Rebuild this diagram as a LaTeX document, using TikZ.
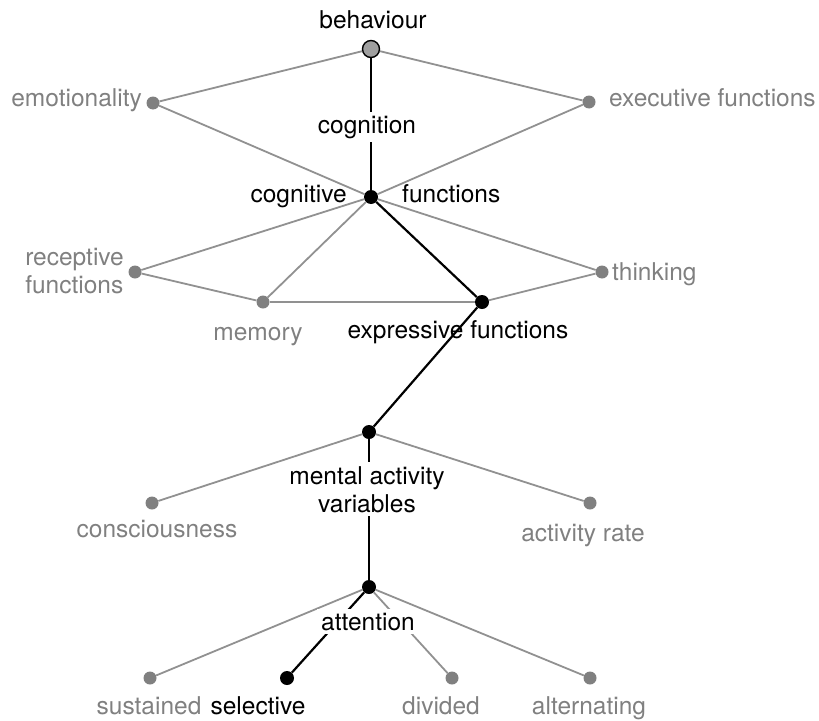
\documentclass[tikz,border=0pt]{standalone}
\usepackage{fontspec}
\setmainfont{TeX Gyre Heros}
\usetikzlibrary{positioning}
\definecolor{midgray}{gray}{0.5}
\definecolor{linegray}{gray}{0.57}
\tikzset{
  gdot/.style={circle,fill=midgray,inner sep=0pt,minimum size=13pt},
  bdot/.style={circle,fill=black,inner sep=0pt,minimum size=14pt},
  topdot/.style={circle,fill=gray!75,draw=black,line width=1.4pt,inner sep=0pt,minimum size=17pt},
  glink/.style={draw=linegray,line width=1.8pt},
  blink/.style={draw=black,line width=2.2pt},
  gtext/.style={text=midgray,inner sep=0pt},
  btext/.style={text=black,inner sep=0pt},
  cover/.style={fill=white,inner sep=4pt},
}

\begin{document}
\begin{tikzpicture}[x=1pt,y=-1pt,font=\fontsize{24.5}{28}\selectfont]
\useasboundingbox (0,0) rectangle (819,720);
% dots
\node[topdot] (behav) at (371,49) {};
\node[gdot] (emot) at (153,103) {};
\node[gdot] (exec) at (589,102) {};
\node[bdot] (cogfun) at (371,197) {};
\node[gdot] (recep) at (135,272) {};
\node[gdot] (memo) at (263,302) {};
\node[gdot] (think) at (602,272) {};
\node[bdot] (expr) at (482,302) {};
\node[bdot] (mental) at (369,432) {};
\node[gdot] (consc) at (152,503) {};
\node[gdot] (rate) at (590,503) {};
\node[bdot] (attn) at (369,587) {};
\node[gdot] (sust) at (150,678) {};
\node[bdot] (selec) at (287,678) {};
\node[gdot] (divi) at (452,678) {};
\node[gdot] (alter) at (590,678) {};

% links
\draw[glink] (behav) -- (emot);
\draw[glink] (behav) -- (exec);
\draw[glink] (emot) -- (cogfun);
\draw[glink] (exec) -- (cogfun);
\draw[blink] (behav) -- (cogfun);
\draw[glink] (cogfun) -- (recep);
\draw[glink] (cogfun) -- (memo);
\draw[glink] (cogfun) -- (think);
\draw[glink] (recep) -- (memo);
\draw[glink] (memo) -- (expr);
\draw[glink] (think) -- (expr);
\draw[blink] (cogfun) -- (expr);
\draw[blink] (expr) -- (mental);
\draw[glink] (mental) -- (consc);
\draw[glink] (mental) -- (rate);
\draw[blink] (mental) -- (attn);
\draw[glink] (attn) -- (sust);
\draw[glink] (attn) -- (divi);
\draw[glink] (attn) -- (alter);
\draw[blink] (attn) -- (selec);

% labels
\node[btext,anchor=base] (behavlbl) at (373,28) {behaviour};
\node[gtext,anchor=base east] (emotlbl) at (142,106) {emotionality};
\node[gtext,anchor=base west] (execlbl) at (609,106) {executive functions};
\node[btext,cover,anchor=base] (cognlbl) at (367,133) {cognition};
\node[btext,anchor=base east] (coglbl) at (347,202) {cognitive};
\node[btext,anchor=base west] (funlbl) at (402,202) {functions};
\node[gtext,anchor=east,align=left] (receplbl) at (124,271) {receptive\\functions};
\node[gtext,anchor=base] (memolbl) at (258,340) {memory};
\node[gtext,anchor=base west] (thinklbl) at (612,280) {thinking};
\node[btext,anchor=base] (exprlbl) at (458,338) {expressive functions};
\node[btext,cover,align=center,anchor=north] (mentallbl) at (367,462) {mental activity\\variables};
\node[gtext,anchor=base] (consclbl) at (157,537) {consciousness};
\node[gtext,anchor=base] (ratelbl) at (583,541) {activity rate};
\node[btext,cover,anchor=base] (attnlbl) at (368,630) {attention};
\node[gtext,anchor=base] (sustlbl) at (149,714) {sustained};
\node[btext,anchor=base] (seleclbl) at (258,714) {selective};
\node[gtext,anchor=base] (divilbl) at (441,714) {divided};
\node[gtext,anchor=base] (alterlbl) at (589,714) {alternating};
\end{tikzpicture}
\end{document}
